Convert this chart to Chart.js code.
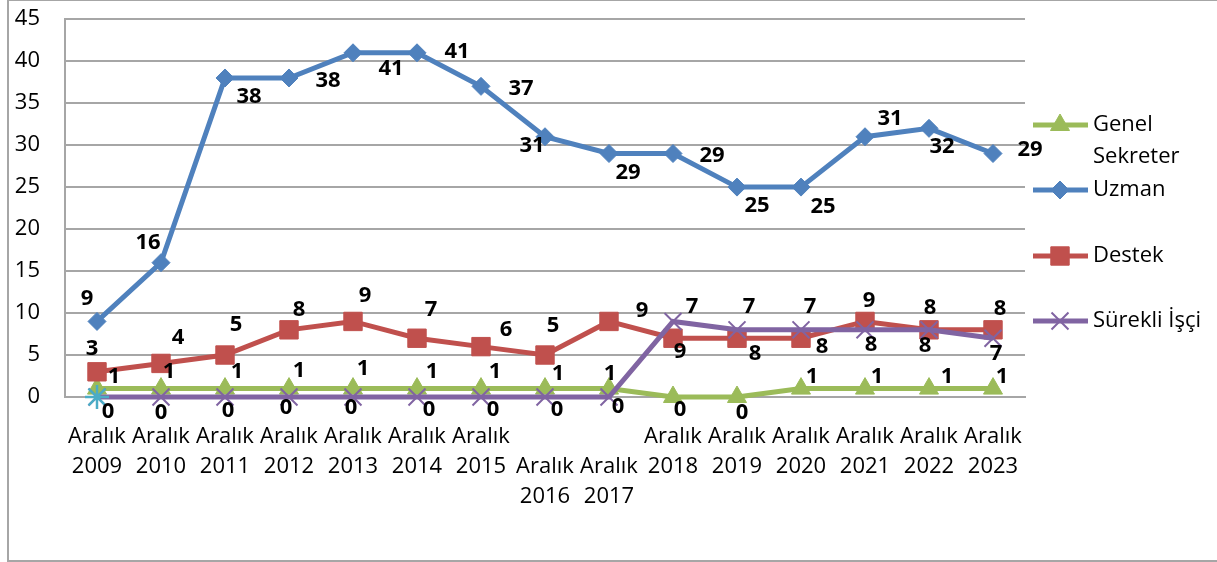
<!DOCTYPE html>
<html>
<head>
<meta charset="utf-8">
<script src="https://cdn.jsdelivr.net/npm/chart.js@4"></script>
<style>
  html, body { margin: 0; padding: 0; background: #fff; }
  #wrap { position: relative; width: 1217px; height: 562px; overflow: hidden; }
  #chart { position: absolute; left: 0; top: -19px; }
  #frame { position: absolute; left: 7px; top: -1px; width: 1250px; height: 563px;
           border: 2px solid #a6a6a6; box-sizing: border-box; pointer-events: none; }
</style>
</head>
<body>
<div id="wrap">
  <canvas id="chart" width="1217" height="581"></canvas>
  <div id="frame"></div>
</div>
<script>
// kategoriler ve seriler
const categories = ["Aralık 2009", "Aralık 2010", "Aralık 2011", "Aralık 2012", "Aralık 2013",
    "Aralık 2014", "Aralık 2015", "Aralık 2016", "Aralık 2017", "Aralık 2018",
    "Aralık 2019", "Aralık 2020", "Aralık 2021", "Aralık 2022", "Aralık 2023"];
const genelSekreter = [1, 1, 1, 1, 1, 1, 1, 1, 1, 0, 0, 1, 1, 1, 1];
const uzman = [9, 16, 38, 38, 41, 41, 37, 31, 29, 29, 25, 25, 31, 32, 29];
const destek = [3, 4, 5, 8, 9, 7, 6, 5, 9, 7, 7, 7, 9, 8, 8];
const surekliIsci = [0, 0, 0, 0, 0, 0, 0, 0, 0, 9, 8, 8, 8, 8, 7];
const seri5 = [0]; // sadece 2009'da görünen isimsiz seri
const yTicks = [0, 5, 10, 15, 20, 25, 30, 35, 40, 45];
const staggered = ["Aralık 2016", "Aralık 2017"]; // eksen etiketi bir satır aşağıda

// etiket kaydırmaları (noktaya göre, px)
const genelOff = [[17,-12],[8,-17],[12,-17],[10,-18],[10,-20],[15,-17],[14,-17],[13,-15],[1,-15],[7,13],[5,16],[11,-12],[12,-12],[18,-12],[9,-12]];
const uzmanOff = [[-10,-23],[-13,-20],[24,19],[39,3],[38,16],[40,-1],[40,2],[-13,9],[19,19],[39,2],[20,19],[22,20],[25,-18],[13,18],[37,-4]];
const destekOff = [[-5,-23],[17,-26],[11,-30],[10,-20],[12,-26],[14,-28],[25,-17],[8,-29],[33,-11],[19,-31],[12,-31],[9,-31],[4,-21],[1,-22],[7,-21]];
const surekliOff = [[11,15],[0,16],[3,14],[-3,11],[-2,11],[12,13],[12,13],[12,13],[9,10],[7,30],[18,24],[21,17],[6,15],[-4,16],[3,16]];

const FONT = "'Open Sans', Lato, sans-serif";
const GREEN = "#9BBB59", BLUE = "#4F81BD", RED = "#C0504D", PURPLE = "#8064A2", CYAN = "#4BACC6";
const SHIFT = 19; // canvas 19px yukarı kaydırıldı

const seriesStyle = [
    { label: "Genel Sekreter", data: genelSekreter, color: GREEN, pointStyle: "triangle", radius: 11, off: genelOff, order: 4 },
    { label: "Uzman", data: uzman, color: BLUE, pointStyle: "rectRot", radius: 9, off: uzmanOff, order: 3 },
    { label: "Destek", data: destek, color: RED, pointStyle: "rect", radius: 13, off: destekOff, order: 2 },
    { label: "Sürekli İşçi", data: surekliIsci, color: PURPLE, pointStyle: "crossRot", radius: 12, off: surekliOff, order: 1 }
];

const datasets = seriesStyle.map(s => ({
    label: s.label,
    data: s.data,
    borderColor: s.color,
    backgroundColor: s.color,
    borderWidth: 5,
    pointStyle: s.pointStyle,
    pointRadius: s.radius,
    pointBorderWidth: s.pointStyle === "crossRot" ? 2 : 1,
    pointHoverRadius: s.radius,
    order: s.order,
    clip: false,
    tension: 0
}));
datasets.push({
    label: "",
    data: seri5,
    borderColor: CYAN,
    backgroundColor: CYAN,
    borderWidth: 5,
    pointStyle: "star",
    pointRadius: 12,
    pointBorderWidth: 2.5,
    clip: false,
    order: 0
});

// veri etiketleri ve lejant
const drawExtras = {
    id: "drawExtras",
    afterDatasetsDraw(chart) {
        const ctx = chart.ctx;
        ctx.save();
        ctx.font = "bold 22px " + FONT;
        ctx.fillStyle = "#000";
        ctx.textAlign = "center";
        ctx.textBaseline = "middle";
        seriesStyle.forEach((s, i) => {
            const meta = chart.getDatasetMeta(i);
            meta.data.forEach((pt, j) => {
                const o = s.off[j];
                ctx.fillText(String(s.data[j]), pt.x + o[0], pt.y + o[1]);
            });
        });
        ctx.restore();
    },
    afterDraw(chart) {
        const ctx = chart.ctx;
        const items = [
            { s: seriesStyle[0], y: 125, lines: ["Genel", "Sekreter"] },
            { s: seriesStyle[1], y: 190, lines: ["Uzman"] },
            { s: seriesStyle[2], y: 256, lines: ["Destek"] },
            { s: seriesStyle[3], y: 321, lines: ["Sürekli İşçi"] }
        ];
        ctx.save();
        items.forEach(it => {
            const y = it.y + SHIFT;
            ctx.strokeStyle = it.s.color;
            ctx.fillStyle = it.s.color;
            ctx.lineWidth = 5;
            ctx.beginPath();
            ctx.moveTo(1033, y);
            ctx.lineTo(1088, y);
            ctx.stroke();
            ctx.lineWidth = it.s.pointStyle === "crossRot" ? 2 : 1;
            Chart.helpers.drawPoint(ctx, { pointStyle: it.s.pointStyle, radius: it.s.radius, rotation: 0, borderWidth: ctx.lineWidth }, 1060, y);
            ctx.fillStyle = "#000";
            ctx.font = "22px " + FONT;
            ctx.textAlign = "left";
            ctx.textBaseline = "middle";
            it.lines.forEach((t, k) => ctx.fillText(t, 1093, y + k * 32));
        });
        ctx.restore();
    }
};

new Chart(document.getElementById("chart"), {
    type: "line",
    data: { labels: categories, datasets: datasets },
    plugins: [drawExtras],
    options: {
        responsive: false,
        animation: false,
        events: [],
        layout: { padding: { left: 0, top: 0, right: 192, bottom: 0 } },
        plugins: { legend: { display: false }, tooltip: { enabled: false } },
        scales: {
            x: {
                offset: true,
                grid: { display: false, drawTicks: false },
                border: { display: true, color: "#a6a6a6", width: 2 },
                ticks: {
                    color: "#000",
                    padding: 25,
                    maxRotation: 0,
                    autoSkip: false,
                    font: { family: FONT, size: 22, lineHeight: 1.36 },
                    callback: function (v, i) {
                        const c = categories[i];
                        const parts = c.split(" ");
                        return staggered.includes(c) ? [""].concat(parts) : parts;
                    }
                },
                afterFit: s => { s.height = 165; }
            },
            y: {
                min: 0,
                max: 45,
                afterBuildTicks: s => { s.ticks = yTicks.map(v => ({ value: v })); },
                grid: { color: "#a6a6a6", lineWidth: 2, drawTicks: false },
                border: { display: true, color: "#a6a6a6", width: 2 },
                ticks: {
                    color: "#000",
                    padding: 25,
                    font: { family: FONT, size: 22 }
                },
                afterFit: s => { s.width = 65; }
            }
        }
    }
});
</script>
</body>
</html>
